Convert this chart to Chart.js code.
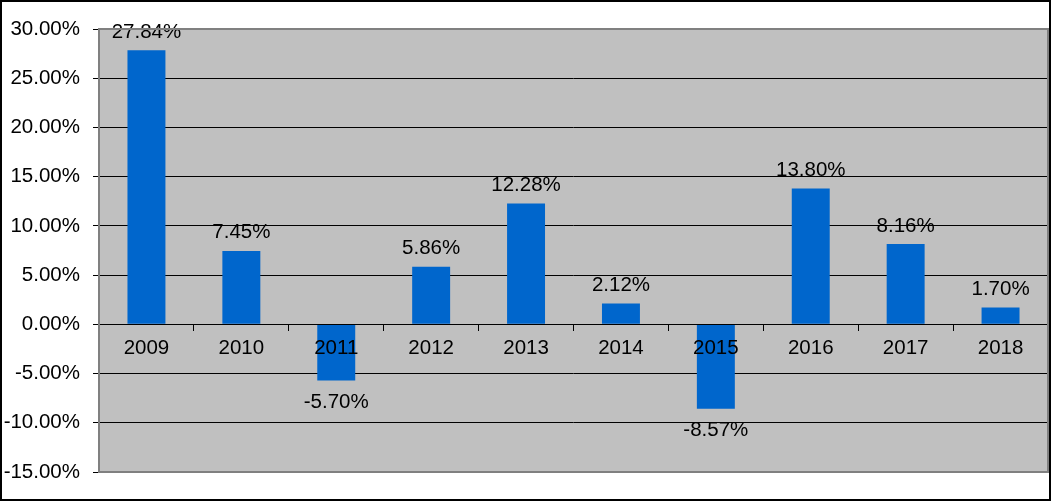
<!DOCTYPE html>
<html>
<head>
<meta charset="utf-8">
<script src="https://cdn.jsdelivr.net/npm/chart.js@4"></script>
<style>
  html, body { margin: 0; padding: 0; background: #fff; }
  #wrap { width: 1051px; height: 501px; }
</style>
</head>
<body>
<div id="wrap"><canvas id="myChart"></canvas></div>
<script>
const years = ['2009', '2010', '2011', '2012', '2013', '2014', '2015', '2016', '2017', '2018'];
const returns = [27.84, 7.45, -5.70, 5.86, 12.28, 2.12, -8.57, 13.80, 8.16, 1.70];
const yTicks = [-15, -10, -5, 0, 5, 10, 15, 20, 25, 30];

const pct = v => v.toFixed(2) + '%';
const FONT = { family: 'Arial, "Liberation Sans", sans-serif', size: 20.5 };

// gray plot area, outer frame and value labels
const decor = {
  id: 'decor',
  beforeDraw(chart) {
    const { ctx, chartArea: a } = chart;
    ctx.save();
    ctx.fillStyle = '#fff';
    ctx.fillRect(0, 0, chart.width, chart.height);
    ctx.fillStyle = '#C0C0C0';
    ctx.fillRect(a.left, a.top, a.right - a.left, a.bottom - a.top);
    ctx.restore();
  },
  afterDatasetsDraw(chart) {
    const { ctx } = chart;
    const meta = chart.getDatasetMeta(0);
    ctx.save();
    ctx.font = FONT.size + 'px ' + FONT.family;
    ctx.fillStyle = '#000';
    ctx.textAlign = 'center';
    ctx.textBaseline = 'alphabetic';
    meta.data.forEach((bar, i) => {
      const v = returns[i];
      const y = v >= 0 ? bar.y - 12.5 : bar.y + 27.5;
      ctx.fillText(pct(v), bar.x, y);
    });
    ctx.restore();
  },
  afterDraw(chart) {
    const { ctx, chartArea: a } = chart;
    ctx.save();
    ctx.strokeStyle = '#808080';
    ctx.lineWidth = 2;
    ctx.strokeRect(a.left, a.top, a.right - a.left, a.bottom - a.top);
    ctx.strokeStyle = '#000';
    ctx.strokeRect(1, 1, chart.width - 2, chart.height - 2);
    ctx.restore();
  }
};

new Chart(document.getElementById('myChart'), {
  type: 'bar',
  data: {
    labels: years,
    datasets: [{
      data: returns,
      backgroundColor: '#0066CC',
      borderWidth: 0,
      barPercentage: 0.4,
      categoryPercentage: 1
    }]
  },
  options: {
    responsive: true,
    maintainAspectRatio: false,
    animation: false,
    layout: { padding: { top: 29, bottom: 29, left: 0, right: 3 } },
    plugins: {
      legend: { display: false },
      tooltip: { enabled: false }
    },
    scales: {
      x: {
        position: { y: 0 },
        grid: {
          offset: true,
          drawOnChartArea: false,
          drawTicks: true,
          tickLength: 6,
          color: '#000',
          z: 1
        },
        border: { display: true, color: '#000', width: 1, z: 1 },
        ticks: {
          color: '#000',
          font: FONT,
          padding: 6,
          autoSkip: false,
          maxRotation: 0,
          z: 1
        }
      },
      y: {
        min: -15,
        max: 30,
        afterBuildTicks(scale) {
          scale.ticks = yTicks.map(v => ({ value: v }));
        },
        afterFit(scale) {
          scale.width = 99;
        },
        grid: {
          color: '#000',
          lineWidth: 1,
          tickLength: 6
        },
        border: { display: false },
        ticks: {
          color: '#000',
          font: FONT,
          padding: 13,
          callback: v => pct(v)
        }
      }
    }
  },
  plugins: [decor]
});
</script>
</body>
</html>
